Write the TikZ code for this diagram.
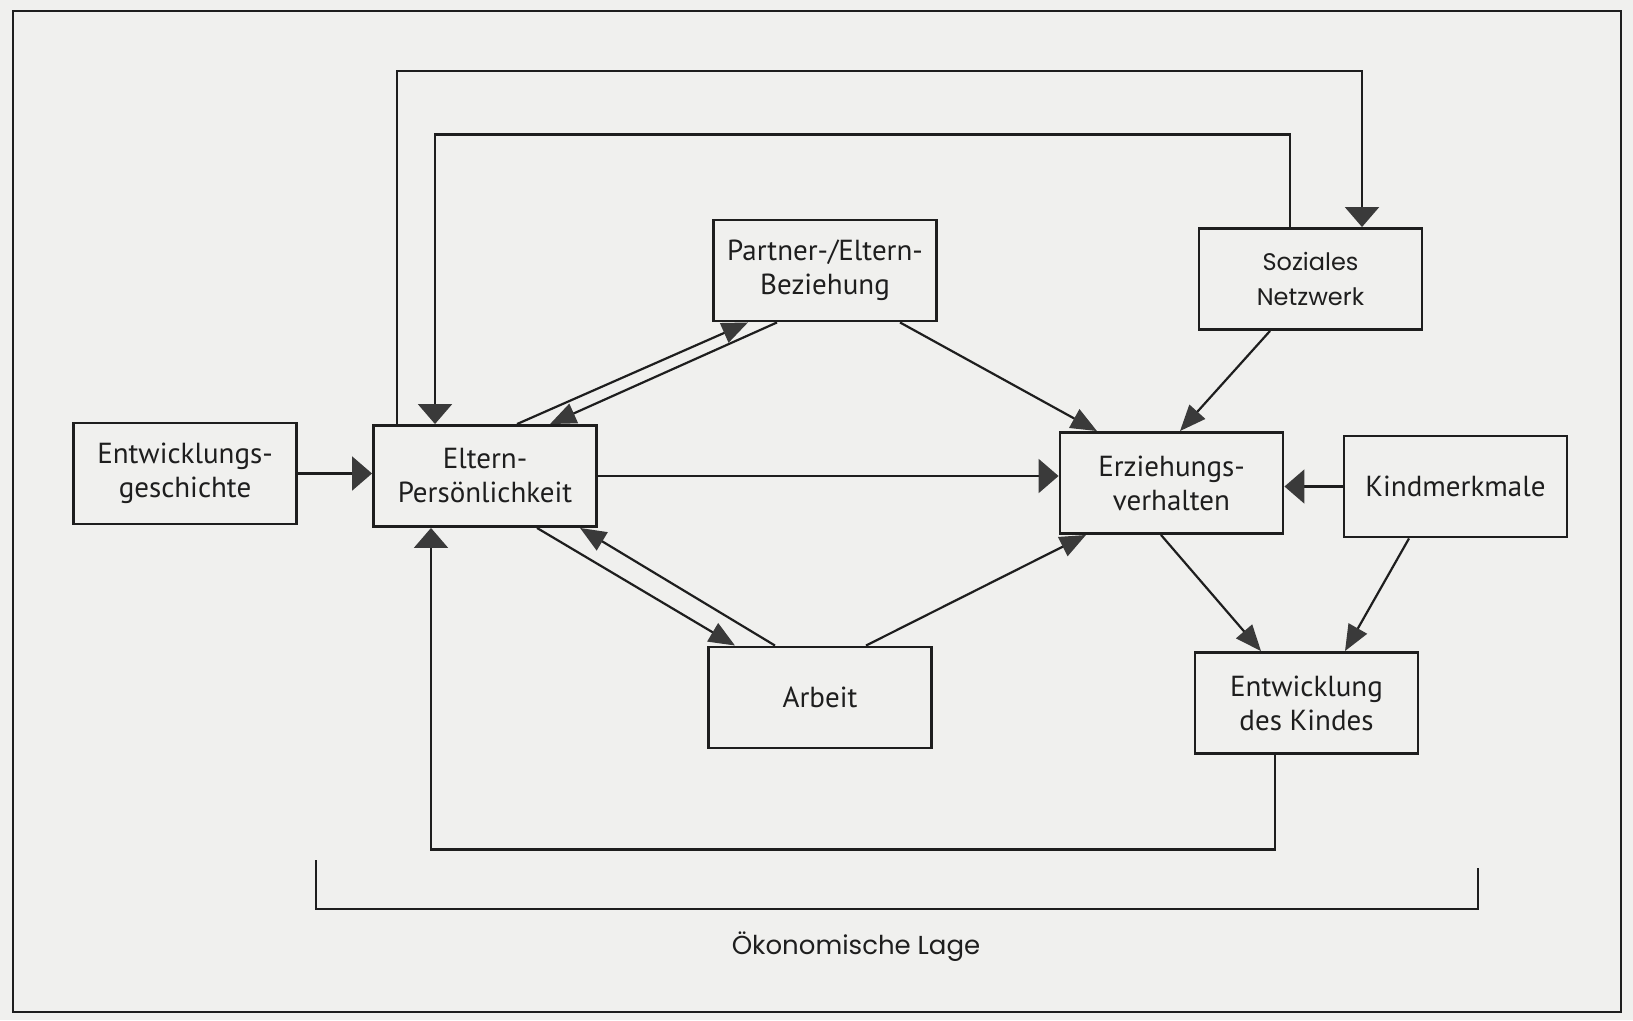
\documentclass[tikz,border=0pt]{standalone}
\usepackage{fontspec}
\setmainfont{PT Sans}
\newfontfamily\geofont{Poppins}
\usetikzlibrary{arrows.meta,calc}
\definecolor{bg}{HTML}{F0F0EE}
\definecolor{ink}{HTML}{1E1E1E}
\definecolor{tipc}{HTML}{3A3A3A}
\begin{document}
\begin{tikzpicture}[x=1pt,y=-1pt,
  box/.style={draw=ink, line width=2.9pt, minimum width=223pt, minimum height=101pt,
    inner sep=0pt, align=center, text=ink, font=\fontsize{29}{34}\selectfont},
  geobox/.style={box, font=\geofont\fontsize{24}{35}\selectfont},
  con/.style={draw=ink, line width=2.2pt},
  otip/.style={-{Triangle[length=20pt,width=34pt,color=tipc]}},
  dtip/.style={-{Triangle[length=26pt,width=21pt,color=tipc]}},
]
\fill[bg] (0,0) rectangle (1633,1020);
\useasboundingbox (0,0) rectangle (1633,1020);
\draw[ink, line width=2.5pt] (13,11) rectangle (1621,1012);

\node[box] (eg) at (185,473.5) {Entwicklungs-\\geschichte};
\node[box] (ep) at (485,476) {Eltern-\\Persönlichkeit};
\node[box] (pb) at (825,270.5) {Partner-/Eltern-\\Beziehung};
\node[geobox] (sn) at (1310.5,279) {Soziales\\Netzwerk};
\node[box] (ev) at (1171.5,483) {Erziehungs-\\verhalten};
\node[box] (km) at (1455.5,486.5) {Kindmerkmale};
\node[box] (ar) at (820,697.5) {Arbeit};
\node[box] (ek) at (1306.5,703) {Entwicklung\\des Kindes};

% horizontal connectors
\draw[con,otip] (eg.east) -- (eg.east -| ep.west);
\draw[con,otip] (ep.east) -- (ep.east -| ev.west);
\draw[con,otip] (km.west) -- (km.west -| ev.east);

% top loops
\draw[con,otip] ($(ep.north)+(-88,0)$) -- ++(0,-353) -| ($(sn.north)+(51.5,0)$);
\draw[con,otip] ($(sn.north)+(-20.5,0)$) -- ++(0,-92.5) -| ($(ep.north)+(-50,0)$);

% double connectors Eltern <-> Partner
\draw[con,dtip] ($(ep.north)+(32,0)$) -- ($(pb.south)+(-77,0)$);
\draw[con,dtip] ($(pb.south)+(-48,0)$) -- ($(ep.north)+(65,0)$);
% double connectors Eltern <-> Arbeit
\draw[con,dtip] ($(ep.south)+(52,0)$) -- ($(ar.north)+(-85,0)$);
\draw[con,dtip] ($(ar.north)+(-45,0)$) -- ($(ep.south)+(95,0)$);

% into Erziehungsverhalten
\draw[con,dtip] ($(pb.south)+(75,0)$) -- ($(ev.north)+(-74.5,0)$);
\draw[con,dtip] ($(sn.south)+(-40.5,0)$) -- ($(ev.north)+(8.5,0)$);
\draw[con,dtip] ($(ar.north)+(46,0)$) -- ($(ev.south)+(-85.5,0)$);

% into Entwicklung des Kindes
\draw[con,dtip] ($(ev.south)+(-10.5,0)$) -- ($(ek.north)+(-45.5,0)$);
\draw[con,dtip] ($(km.south)+(-46.5,0)$) -- ($(ek.north)+(38.5,0)$);

% loop back to Eltern-Persoenlichkeit
\draw[con,otip] ($(ek.south)+(-31.5,0)$) -- ++(0,94.5) -| ($(ep.south)+(-54,0)$);

% Oekonomische Lage bracket
\coordinate (b1) at (316,860);
\coordinate (b2) at (1478,909);
\coordinate (b3) at (1478,868);
\draw[con] (b1) |- (b2) -- (b3);
\node[font=\geofont\fontsize{26}{30}\selectfont, text=ink] (ol) at (856,947) {Ökonomische Lage};
\end{tikzpicture}
\end{document}
